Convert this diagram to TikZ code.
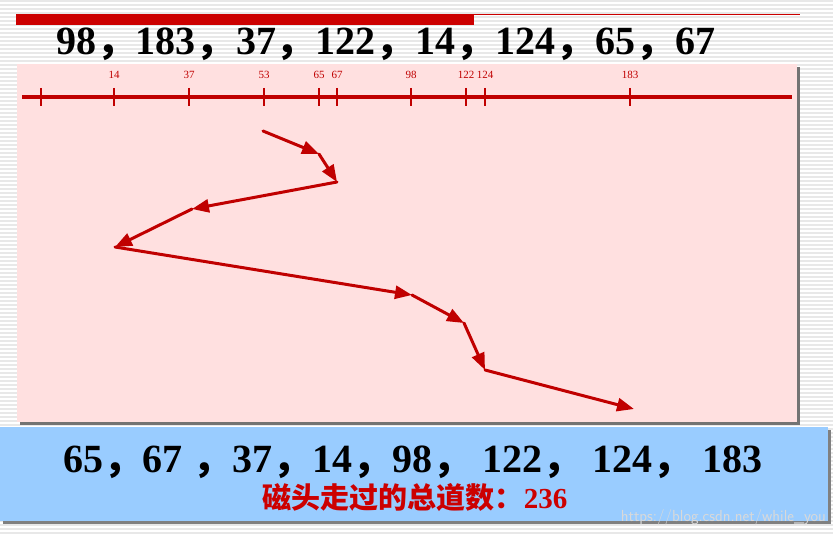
\documentclass[tikz,border=0pt]{standalone}
\usepackage{fontspec}
\setmainfont{Liberation Serif}
\newfontfamily\cjk{Noto Sans CJK SC}
\usetikzlibrary{arrows.meta}
\definecolor{dred}{HTML}{C00000}
\definecolor{bred}{HTML}{CC0000}
\definecolor{pinkbg}{HTML}{FFE0E0}
\definecolor{bluebg}{HTML}{99CCFF}
\newcommand{\fc}{{\cjk\bfseries ，}}
\tikzset{
  trk/.style={draw=dred,line width=3pt,line cap=round,-{Triangle[length=17pt,width=13pt]}},
  tick/.style={draw=dred,line width=2pt},
  ticklab/.style={text=dred,font=\fontsize{11}{11}\selectfont,inner sep=0pt,anchor=base},
  big/.style={font=\fontsize{40}{40}\selectfont\bfseries,inner sep=0pt,anchor=base}
}
\begin{document}
\begin{tikzpicture}[x=1pt,y=-1pt]
\useasboundingbox (0,0) rectangle (833,535);
\fill[white] (0,0) rectangle (833,535);
\foreach \yy in {1,5,...,535} \draw[black!9,line width=2pt] (0,\yy) -- (833,\yy);
% title bar
\fill[bred] (16,14) rectangle (474,25);
\draw[bred,line width=1pt] (474,14.5) -- (800,14.5);
\node[big] (seq) at (386,55) {98\fc 183\fc 37\fc 122\fc 14\fc 124\fc 65\fc 67};
% pink panel
\fill[black!55] (20,67) rectangle (800,425);
\fill[pinkbg] (17,64) rectangle (797,422);
% axis
\coordinate (axl) at (22,97);
\coordinate (axr) at (792,97);
\draw[dred,line width=3pt] (axl) -- (axr);
\foreach \x/\l in {41/,114/14,189/37,264/53,319/65,337/67,411/98,466/122,485/124,630/183}{
  \draw[tick] (\x,88) -- (\x,106);
  \node[ticklab] at (\x,78) {\l};
}
% path
\coordinate (p0) at (263,131);
\coordinate (p1) at (319,154);
\coordinate (p2) at (337,182);
\coordinate (p3) at (192,209);
\coordinate (p4) at (115,247);
\coordinate (p5) at (412,295);
\coordinate (p6) at (464,323);
\coordinate (p7) at (485,370);
\coordinate (p8) at (634,409);
\draw[trk] (p0) -- (p1);
\draw[trk] (p1) -- (p2);
\draw[trk] (p2) -- (p3);
\draw[trk] (p3) -- (p4);
\draw[trk] (p4) -- (p5);
\draw[trk] (p5) -- (p6);
\draw[trk] (p6) -- (p7);
\draw[trk] (p7) -- (p8);
% blue panel
\fill[black!50] (3,430) rectangle (831,524);
\fill[bluebg] (0,427) rectangle (828,521);
\node[big] (res) at (413,472) {65\fc 67 \fc 37\fc 14\fc 98\fc\ 122\fc\ 124\fc\ 183};
\node[inner sep=0pt,anchor=base,text=bred,font=\fontsize{29}{29}\selectfont\bfseries] (tot) at (415,508) {{\cjk 磁头走过的总道数：}236};
\node[inner sep=0pt,anchor=base east,text=white!85!black,font=\fontsize{16}{16}\selectfont\sffamily] (wm) at (826,521) {https://blog.csdn.net/while\_you};
\end{tikzpicture}
\end{document}
